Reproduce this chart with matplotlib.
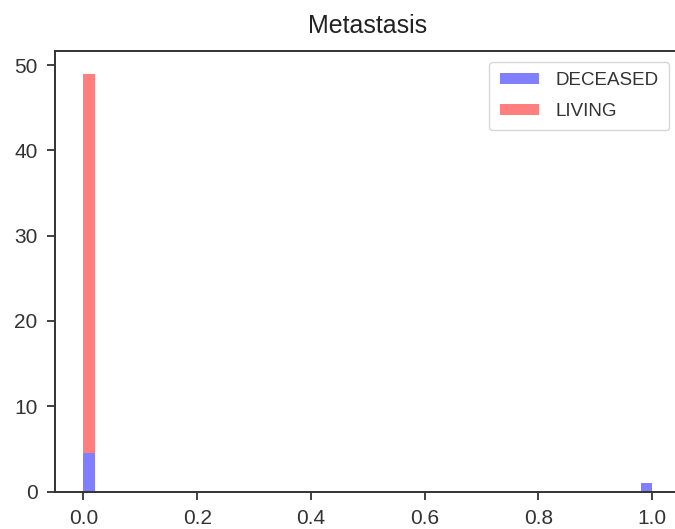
import matplotlib
matplotlib.use("Agg")
import matplotlib.pyplot as plt
import numpy as np

# histogram: 50 bins over [0, 1]
bin_edges = np.linspace(0, 1, 51)
bin_left = bin_edges[:-1]
bin_width = bin_edges[1] - bin_edges[0]

deceased_counts = np.zeros(50)
deceased_counts[0] = 4.5
deceased_counts[49] = 1

living_counts = np.zeros(50)
living_counts[0] = 44.5

x_ticks = [0.0, 0.2, 0.4, 0.6, 0.8, 1.0]
y_ticks = [0, 10, 20, 30, 40, 50]

W, H = 675, 529
fig = plt.figure(figsize=(W / 100, H / 100), dpi=100)
left, right, top, bottom = 55, 680.5, 50.5, 491.5
ax = fig.add_axes([left / W, 1 - bottom / H, (right - left) / W, (bottom - top) / H])

ax.bar(bin_left, deceased_counts, width=bin_width, align='edge',
       color='blue', alpha=0.5, label='DECEASED')
ax.bar(bin_left, living_counts, width=bin_width, align='edge',
       bottom=deceased_counts, color='red', alpha=0.5, label='LIVING')

ax.set_xlim(-0.05, 1.05)
ax.set_ylim(0, 51.7)
ax.set_xticks(x_ticks)
ax.set_xticklabels([f"{v:.1f}" for v in x_ticks])
ax.set_yticks(y_ticks)

tick_font = ['Liberation Sans', 'DejaVu Sans']
for lab in ax.get_xticklabels() + ax.get_yticklabels():
    lab.set_family(tick_font)
    lab.set_fontsize(15)
    lab.set_color('#333333')
ax.tick_params(length=5.5, width=1.3, pad=7, color='#333333')
for s in ax.spines.values():
    s.set_linewidth(1.4)
    s.set_color('#333333')

ax.set_title('Metastasis', fontsize=18, pad=12.5,
             family=['Liberation Sans', 'DejaVu Sans'], color='#222222')
leg = ax.legend(loc='upper right',
                prop={'family': ['Liberation Sans', 'DejaVu Sans'], 'size': 13.5},
                handlelength=2.1, handleheight=0.6, handletextpad=0.9,
                labelspacing=0.75, borderpad=0.55, borderaxespad=0.6)
for t in leg.get_texts():
    t.set_color('#333333')

fig.savefig('out.png', dpi=100)
